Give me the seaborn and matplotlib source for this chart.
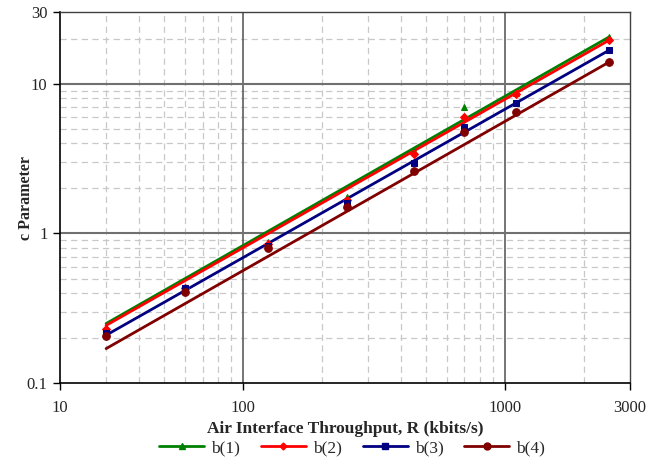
import matplotlib
matplotlib.use("Agg")
import matplotlib.pyplot as plt
from matplotlib.lines import Line2D
from matplotlib.ticker import FixedLocator, NullFormatter
import seaborn as sns
import pandas as pd
import numpy as np

# ---- data ----
throughput = [30, 60, 125, 250, 450, 700, 1100, 2500]
b1 = [0.235, 0.435, 0.88, 1.75, 3.55, 6.95, 8.75, 20.6]
b2 = [0.230, 0.430, 0.85, 1.68, 3.38, 6.00, 8.60, 19.6]
b3 = [0.217, 0.432, 0.828, 1.61, 2.97, 5.17, 7.50, 16.8]
b4 = [0.206, 0.405, 0.794, 1.50, 2.62, 4.79, 6.48, 14.0]
series_names = ["b(1)", "b(2)", "b(3)", "b(4)"]

# power-law trendlines: value at first and last throughput
trend_x = [30, 2500]
trend_start = [0.250, 0.243, 0.209, 0.170]
trend_end = [20.6, 19.6, 16.8, 14.0]

x_tick_pos = [20, 100, 1000, 3000]
x_tick_labels = ["10", "100", "1000", "3000"]
y_tick_pos = [0.1, 1, 10, 30]
y_tick_labels = ["0.1", "1", "10", "30"]

colors = ["#008000", "#FF0000", "#000080", "#800000"]
markers = ["^", "D", "s", "o"]
msizes = [5.0, 4.0, 5.0, 5.5]

sns.set_style("white")
plt.rcParams["font.family"] = ["Liberation Serif", "DejaVu Serif"]

df = pd.DataFrame({"R": throughput * 4,
                   "c": b1 + b2 + b3 + b4,
                   "series": sum([[n] * len(throughput) for n in series_names], [])})
tdf = pd.DataFrame({"R": trend_x * 4,
                    "c": sum([[s, e] for s, e in zip(trend_start, trend_end)], []),
                    "series": sum([[n] * 2 for n in series_names], [])})

fig = plt.figure(figsize=(6.62, 4.61), dpi=100)
ax = fig.add_axes([0.0906, 0.169, 0.8611, 0.804])
ax.set_xscale("log")
ax.set_yscale("log")

for i, name in enumerate(series_names):
    sub = df[df.series == name]
    sns.lineplot(data=sub, x="R", y="c", ax=ax, color=colors[i], marker=markers[i],
                 markersize=msizes[i], markeredgecolor=colors[i], linestyle="none",
                 zorder=3 + i, legend=False)
for i, name in enumerate(series_names):
    sub = tdf[tdf.series == name]
    sns.lineplot(data=sub, x="R", y="c", ax=ax, color=colors[i], linewidth=2.0,
                 zorder=2 + i * 0.1, legend=False)

ax.set_xlim(20, 3000)
ax.set_ylim(0.1, 30)

ax.xaxis.set_major_locator(FixedLocator(x_tick_pos))
ax.set_xticklabels(x_tick_labels)
ax.yaxis.set_major_locator(FixedLocator(y_tick_pos))
ax.set_yticklabels(y_tick_labels)
xminor = [v * d for d in (10, 100, 1000) for v in range(2, 10) if 20 < v * d < 3000]
yminor = [v * d for d in (0.1, 1, 10) for v in range(2, 10) if v * d < 30]
ax.xaxis.set_minor_locator(FixedLocator(xminor))
ax.yaxis.set_minor_locator(FixedLocator(yminor))
ax.xaxis.set_minor_formatter(NullFormatter())
ax.yaxis.set_minor_formatter(NullFormatter())

ax.grid(False)
for v in [100, 1000]:
    ax.axvline(v, color="#505050", linewidth=1.1, zorder=1)
for v in [1, 10]:
    ax.axhline(v, color="#707070", linewidth=1.5, zorder=1)
for v in xminor:
    ax.axvline(v, color="#c8c8c8", linewidth=0.9, linestyle=(0, (5, 3.5)), zorder=0.5)
for v in yminor:
    ax.axhline(v, color="#c8c8c8", linewidth=0.9, linestyle=(0, (5, 3.5)), zorder=0.5)

ax.tick_params(axis="both", which="major", direction="out", length=5, width=1,
               color="black", labelsize=12, bottom=True, left=True)
ax.tick_params(axis="x", which="major", pad=7)
ax.tick_params(axis="y", which="major", pad=4)
ax.tick_params(axis="both", which="minor", length=0)
for s in ["left", "bottom"]:
    ax.spines[s].set_color("black")
    ax.spines[s].set_linewidth(1.2)
for s in ["top", "right"]:
    ax.spines[s].set_color("#404040")
    ax.spines[s].set_linewidth(1.0)
    ax.spines[s].set_visible(True)

ax.set_xlabel("Air Interface Throughput, R (kbits/s)", fontsize=12.5, fontweight="bold", labelpad=4)
ax.set_ylabel("c Parameter", fontsize=11.5, fontweight="bold", labelpad=-5)

handles = [Line2D([0], [0], color=colors[i], marker=markers[i], markersize=msizes[i] - 0.5,
                  linewidth=2.0, markeredgecolor=colors[i]) for i in range(4)]
fig.legend(handles, series_names, loc="center", bbox_to_anchor=(0.532, 0.028), ncol=4,
           frameon=False, fontsize=12.5, handlelength=2.6, columnspacing=1.2, handletextpad=0.4)

fig.savefig("out.png", dpi=100)
